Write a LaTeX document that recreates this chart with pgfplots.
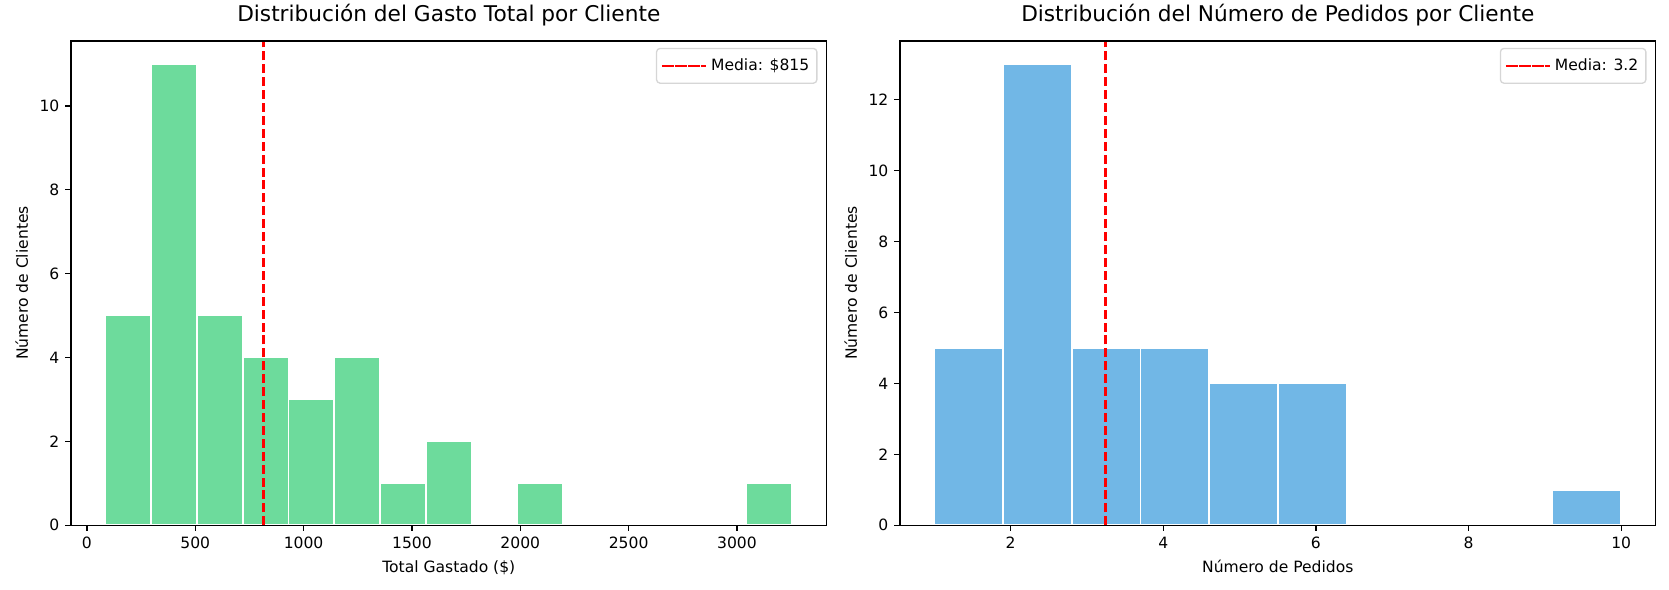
\documentclass[border=0pt]{standalone}
\usepackage{fontspec}
\setmainfont{DejaVu Sans}
\usepackage{pgfplots}
\pgfplotsset{compat=1.18}

\definecolor{gastoverde}{HTML}{6DDB9C}
\definecolor{pedidoazul}{HTML}{71B7E6}
\definecolor{marcoleyenda}{HTML}{D6D6D6}

\newcommand{\fuentetick}{\fontsize{11.2}{13.5}\selectfont}
\newcommand{\fuentetitulo}{\fontsize{15.6}{18}\selectfont}

\pgfplotsset{
  histpanel/.style={
    scale only axis,
    width=544pt, height=348.8pt,
    ymin=0,
    axis on top,
    tick align=outside,
    tick pos=left,
    major tick length=4.1pt,
    tick style={line width=0.94pt, black},
    axis line style={line width=0.94pt},
    /pgf/number format/assume math mode=true,
    /pgf/number format/1000 sep={},
    tick label style={font=\fuentetick},
    xticklabel style={anchor=north, inner sep=0pt, yshift=-4.1pt},
    yticklabel style={anchor=east, inner sep=0pt, xshift=-4.1pt},
    label style={font=\fuentetick},
    xlabel style={at={(axis description cs:0.5,-0.098)}, anchor=base},
    ylabel style={at={(axis description cs:-0.057,0.5)}, anchor=base, rotate=0},
    title style={at={(axis description cs:0.5,1)}, anchor=base, yshift=7.7pt,
                 font=\fuentetitulo},
    legend style={at={(axis description cs:1,1)}, anchor=north east,
                  xshift=-6.5pt, yshift=-5pt,
                  draw=marcoleyenda, line width=0.94pt, rounded corners=2.5pt,
                  font=\fuentetick,
                  inner xsep=3pt, inner ysep=5pt,
                  nodes={inner sep=2.5pt}},
    legend cell align=left,
    legend image code/.code={%
      \path (0pt,0pt) -- (32pt,0pt);
      \draw[#1] (2.3pt,0pt) -- (27.6pt,0pt);},
  },
  medialine/.style={red, line width=1.75pt, dash pattern=on 6.5pt off 2.8pt},
}

\begin{document}
\begin{tikzpicture}
\path[use as bounding box] (0,0) rectangle (1201.68pt,424.8pt);

% Gasto total por cliente
\begin{axis}[histpanel,
  at={(51.12pt,46.58pt)}, anchor=south west,
  xmin=-73.5, xmax=3413.5, ymax=11.55,
  xtick={0,500,1000,1500,2000,2500,3000},
  ytick={0,2,4,6,8,10},
  title={Distribución del Gasto Total por Cliente},
  xlabel={Total Gastado (\$)},
  ylabel={Número de Clientes},
]
\addplot[ybar interval, fill=gastoverde, draw=white, line width=1.17pt, forget plot]
  coordinates {
    (85,5) (296.3,11) (507.7,5) (719,4) (930.3,3) (1141.7,4) (1353,1)
    (1564.3,2) (1775.7,0) (1987,1) (2198.3,0) (2409.7,0) (2621,0)
    (2832.3,0) (3043.7,1) (3255,1)
  };
\addplot[medialine] coordinates {(815,0) (815,11.55)};
\addlegendentry{Media: \$815}
\end{axis}

% Numero de pedidos por cliente
\begin{axis}[histpanel,
  at={(648pt,46.58pt)}, anchor=south west,
  xmin=0.55, xmax=10.45, ymax=13.65,
  xtick={2,4,6,8,10},
  ytick={0,2,4,6,8,10,12},
  title={Distribución del Número de Pedidos por Cliente},
  xlabel={Número de Pedidos},
  ylabel={Número de Clientes},
]
\addplot[ybar interval, fill=pedidoazul, draw=white, line width=1.17pt, forget plot]
  coordinates {
    (1,5) (1.9,13) (2.8,5) (3.7,5) (4.6,4) (5.5,4) (6.4,0) (7.3,0)
    (8.2,0) (9.1,1) (10,1)
  };
\addplot[medialine] coordinates {(3.24,0) (3.24,13.65)};
\addlegendentry{Media: 3.2}
\end{axis}
\end{tikzpicture}
\end{document}
